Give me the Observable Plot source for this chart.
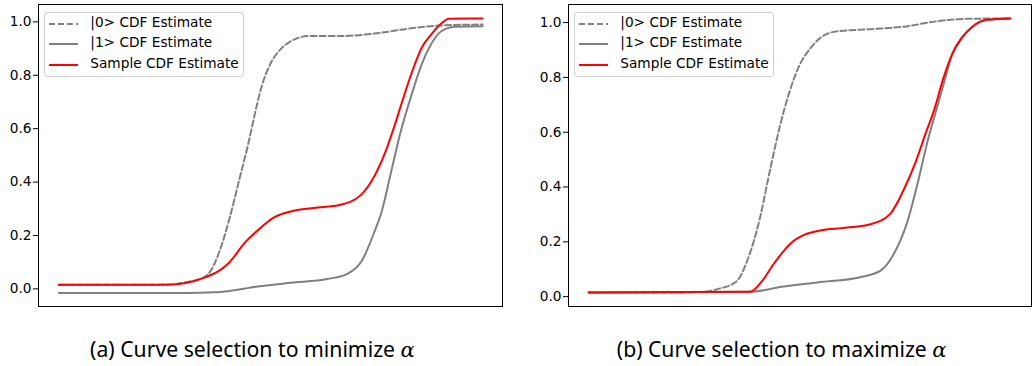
<!DOCTYPE html>
<html>
<head>
<meta charset="utf-8">
<script src="https://cdn.jsdelivr.net/npm/d3@7"></script>
<script src="https://cdn.jsdelivr.net/npm/@observablehq/plot@0.6"></script>
<style>
  html, body { margin:0; padding:0; background:#fff; }
  #root { position:relative; width:1033px; height:366px; overflow:hidden; background:#fff; }
  .panel { position:absolute; top:0; }
  .legend { position:absolute; box-sizing:border-box; border:1px solid #d0d0d0; border-radius:3px; background:rgba(255,255,255,0.85);
            font-family:"DejaVu Sans", sans-serif; font-size:13.7px; color:#000; }
  .legend svg { position:absolute; }
  .legend span { position:absolute; line-height:1; white-space:nowrap; }
  .caption { position:absolute; font-family:"Noto Sans", sans-serif; color:#000; white-space:nowrap; line-height:1; }
  .caption i { font-family:"DejaVu Serif", serif; font-style:italic; }
</style>
</head>
<body>
<div id="root"></div>
<script>
// ---------- data (x normalised 0..1, y = CDF estimate) ----------
const seriesNames = ["|0> CDF Estimate", "|1> CDF Estimate", "Sample CDF Estimate"];
const yTicks = [0.0, 0.2, 0.4, 0.6, 0.8, 1.0];
const captions = ["(a) Curve selection to minimize ", "(b) Curve selection to maximize "];

// Panel (a)
const a0X = [0, 0.25, 0.30, 0.343, 0.356, 0.379, 0.403, 0.426, 0.448, 0.464, 0.479, 0.50, 0.522, 0.545, 0.565, 0.59, 0.665, 0.744, 0.823, 0.894, 1.0];
const a0Y = [0.015, 0.016, 0.025, 0.044, 0.062, 0.14, 0.265, 0.41, 0.55, 0.665, 0.76, 0.845, 0.895, 0.925, 0.940, 0.947, 0.947, 0.956, 0.974, 0.986, 0.99];
const a1X = [0, 0.30, 0.366, 0.39, 0.469, 0.547, 0.634, 0.681, 0.715, 0.745, 0.762, 0.783, 0.807, 0.833, 0.856, 0.878, 0.901, 0.935, 1.0];
const a1Y = [-0.015, -0.015, -0.013, -0.010, 0.009, 0.023, 0.037, 0.056, 0.105, 0.215, 0.29, 0.43, 0.59, 0.73, 0.84, 0.915, 0.963, 0.982, 0.984];
const aSX = [0, 0.25, 0.293, 0.347, 0.385, 0.40, 0.44, 0.469, 0.508, 0.547, 0.602, 0.665, 0.713, 0.744, 0.77, 0.79, 0.812, 0.834, 0.857, 0.88, 0.90, 0.921, 1.0];
const aSY = [0.015, 0.015, 0.020, 0.044, 0.075, 0.095, 0.175, 0.219, 0.268, 0.290, 0.303, 0.315, 0.352, 0.42, 0.51, 0.60, 0.71, 0.815, 0.905, 0.955, 0.99, 1.012, 1.013];

// Panel (b)
const b0X = [0, 0.20, 0.265, 0.312, 0.35, 0.378, 0.405, 0.429, 0.453, 0.476, 0.50, 0.525, 0.55, 0.585, 0.668, 0.747, 0.826, 0.905, 1.0];
const b0Y = [0.015, 0.015, 0.017, 0.030, 0.055, 0.14, 0.28, 0.455, 0.62, 0.747, 0.845, 0.905, 0.945, 0.967, 0.976, 0.985, 1.005, 1.014, 1.015];
const b1X = [0, 0.383, 0.462, 0.542, 0.644, 0.692, 0.725, 0.755, 0.781, 0.804, 0.826, 0.846, 0.862, 0.885, 0.91, 0.945, 1.0];
const b1Y = [0.015, 0.018, 0.037, 0.052, 0.071, 0.095, 0.16, 0.27, 0.42, 0.57, 0.69, 0.80, 0.885, 0.945, 0.985, 1.01, 1.015];
const bSX = [0, 0.383, 0.41, 0.439, 0.48, 0.512, 0.555, 0.60, 0.668, 0.715, 0.747, 0.775, 0.80, 0.82, 0.84, 0.862, 0.885, 0.91, 0.945, 1.0];
const bSY = [0.015, 0.018, 0.055, 0.12, 0.196, 0.226, 0.243, 0.250, 0.264, 0.302, 0.39, 0.49, 0.60, 0.685, 0.792, 0.885, 0.945, 0.985, 1.01, 1.015];

// ---------- helpers ----------
const toRows = (xs, ys) => xs.map((x, i) => ({x, y: ys[i]}));
const styles = [
  {stroke: "#808080", strokeDasharray: "6,3"},
  {stroke: "#808080"},
  {stroke: "#ff0000"}
];

function panel({series, xDomain, yDomain, width, height, mL, mR, mT, mB}) {
  return Plot.plot({
    width, height, marginLeft: mL, marginRight: mR, marginTop: mT, marginBottom: mB,
    x: {domain: xDomain, axis: null},
    y: {domain: yDomain, ticks: yTicks, tickFormat: d3.format(".1f"), tickSize: 5, tickPadding: 2, label: null},
    style: {fontFamily: "DejaVu Sans", fontSize: "13.7px", color: "#000", background: "transparent", overflow: "visible"},
    marks: [
      ...series.map((s, i) => Plot.line(s, {x: "x", y: "y", curve: "monotone-x", strokeWidth: 2, ...styles[i]})),
      Plot.frame({stroke: "#000", strokeWidth: 1})
    ]
  });
}

function legend(left, top, width, height) {
  const div = document.createElement("div");
  div.className = "legend";
  Object.assign(div.style, {left: left + "px", top: top + "px", width: width + "px", height: height + "px"});
  const rowY = [11.6, 31.6, 52.3];
  seriesNames.forEach((name, i) => {
    const s = styles[i];
    const svg = document.createElementNS("http://www.w3.org/2000/svg", "svg");
    svg.setAttribute("width", 30); svg.setAttribute("height", 6);
    svg.style.left = "4px"; svg.style.top = (rowY[i] - 3) + "px";
    const ln = document.createElementNS("http://www.w3.org/2000/svg", "line");
    ln.setAttribute("x1", 0); ln.setAttribute("x2", 29); ln.setAttribute("y1", 3); ln.setAttribute("y2", 3);
    ln.setAttribute("stroke", s.stroke); ln.setAttribute("stroke-width", 2);
    if (s.strokeDasharray) ln.setAttribute("stroke-dasharray", s.strokeDasharray);
    svg.appendChild(ln);
    div.appendChild(svg);
    const sp = document.createElement("span");
    sp.textContent = name;
    sp.style.left = "45px"; sp.style.top = (rowY[i] - 8) + "px";
    div.appendChild(sp);
  });
  return div;
}

const root = document.getElementById("root");

const pa = panel({
  series: [toRows(a0X, a0Y), toRows(a1X, a1Y), toRows(aSX, aSY)],
  xDomain: [-0.048, 1.047], yDomain: [-0.066, 1.065],
  width: 510, height: 310, mL: 38, mR: 8, mT: 4, mB: 4
});
pa.classList.add("panel"); pa.style.left = "0px";
root.appendChild(pa);

const pb = panel({
  series: [toRows(b0X, b0Y), toRows(b1X, b1Y), toRows(bSX, bSY)],
  xDomain: [-0.048, 1.050], yDomain: [-0.036, 1.066],
  width: 513, height: 310, mL: 48, mR: 2, mT: 4, mB: 4
});
pb.classList.add("panel"); pb.style.left = "520px";
root.appendChild(pb);

root.appendChild(legend(44.3, 11.7, 200, 65.6));
root.appendChild(legend(574.3, 11.7, 200, 65.6));

// captions: fit to the measured caption widths of the original
const capCenters = [252.5, 781.7];
const capWidths = [325, 330];
captions.forEach((c, i) => {
  const d = document.createElement("div");
  d.className = "caption";
  let fs = 20;
  d.style.fontSize = fs + "px";
  d.innerHTML = c.replace(/</g, "&lt;") + "<i>α</i>";
  root.appendChild(d);
  let w = d.getBoundingClientRect().width;
  fs = fs * capWidths[i] / w;
  d.style.fontSize = fs + "px";
  w = d.getBoundingClientRect().width;
  d.style.left = (capCenters[i] - w / 2) + "px";
  d.style.top = (356.5 - 0.888 * fs) + "px";
});
</script>
</body>
</html>
